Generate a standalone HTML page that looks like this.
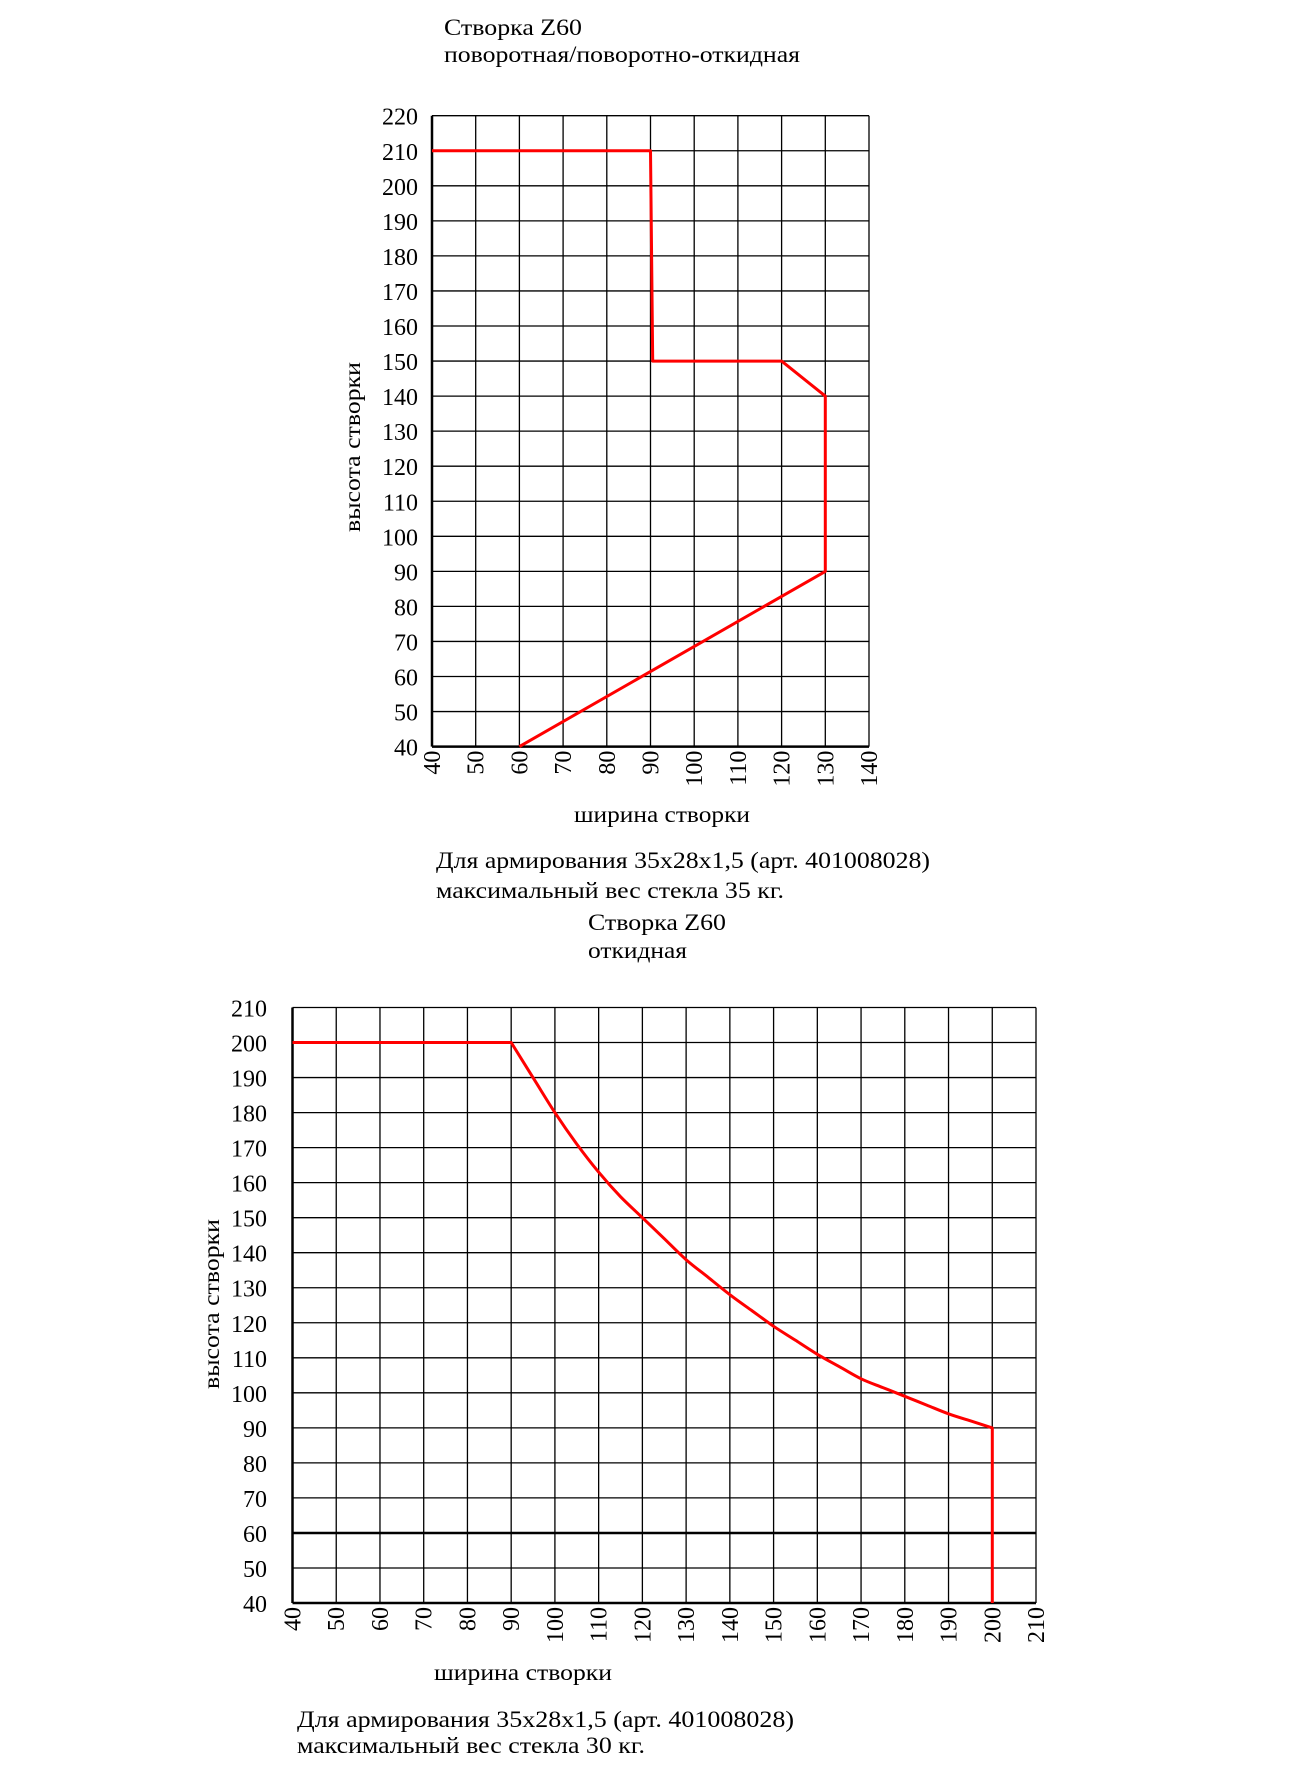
<!DOCTYPE html>
<html><head><meta charset="utf-8"><style>
html,body{margin:0;padding:0;background:#fff;}
svg{display:block;}
text{font-family:"Liberation Serif",serif;fill:#000;}
</style></head><body>
<svg id="s" width="1300" height="1776" xmlns="http://www.w3.org/2000/svg">
<text x="444" y="35" font-size="23" textLength="138" lengthAdjust="spacingAndGlyphs">Створка Z60</text>
<text x="444" y="62" font-size="23" textLength="356" lengthAdjust="spacingAndGlyphs">поворотная/поворотно-откидная</text>
<text x="436" y="868" font-size="23" textLength="494" lengthAdjust="spacingAndGlyphs">Для армирования 35x28x1,5 (арт. 401008028)</text>
<text x="436" y="898" font-size="23" textLength="348" lengthAdjust="spacingAndGlyphs">максимальный вес стекла 35 кг.</text>
<text x="588" y="930" font-size="23" textLength="138" lengthAdjust="spacingAndGlyphs">Створка Z60</text>
<text x="588" y="958" font-size="23" textLength="99" lengthAdjust="spacingAndGlyphs">откидная</text>
<text x="297" y="1727" font-size="23" textLength="497" lengthAdjust="spacingAndGlyphs">Для армирования 35x28x1,5 (арт. 401008028)</text>
<text x="297" y="1753" font-size="23" textLength="348" lengthAdjust="spacingAndGlyphs">максимальный вес стекла 30 кг.</text>
<text x="574" y="822" font-size="23" textLength="176" lengthAdjust="spacingAndGlyphs">ширина створки</text>
<text x="434" y="1680" font-size="23" textLength="178" lengthAdjust="spacingAndGlyphs">ширина створки</text>
<text transform="translate(360,447) rotate(-90)" text-anchor="middle" font-size="23" textLength="170" lengthAdjust="spacingAndGlyphs">высота створки</text>
<text transform="translate(219,1304) rotate(-90)" text-anchor="middle" font-size="23" textLength="170" lengthAdjust="spacingAndGlyphs">высота створки</text>
<g id="g"></g>
</svg>
<script>
var g=document.getElementById('g'),h='';
function chart(L,R,T,B,x0,x1,y0,y1,lblR,pts,thick60,smooth){
  var sx=(R-L)/(x1-x0),sy=(B-T)/(y1-y0);
  function X(v){return L+(v-x0)*sx} function Y(v){return B-(v-y0)*sy}
  for(var v=x0;v<=x1;v+=10){var x=X(v);
    h+='<line x1="'+x+'" y1="'+T+'" x2="'+x+'" y2="'+B+'" stroke="#000" stroke-width="'+(v==x0?2.5:1.3)+'"/>';
    h+='<text transform="translate('+(x+8)+','+(B+4)+') rotate(-90)" text-anchor="end" font-size="24">'+v+'</text>';}
  for(var v=y0;v<=y1;v+=10){var y=Y(v);
    h+='<line x1="'+L+'" y1="'+y+'" x2="'+R+'" y2="'+y+'" stroke="#000" stroke-width="'+(v==y0||(thick60&&v==60)?2.5:1.3)+'"/>';
    h+='<text x="'+lblR+'" y="'+(y+9)+'" text-anchor="end" font-size="24">'+v+'</text>';}
  var P=pts.map(function(p){return [X(p[0]),Y(p[1])]});
  var d='M'+P[0][0].toFixed(1)+','+P[0][1].toFixed(1);
  for(var i=1;i<P.length;i++){
    if(smooth&&smooth(i)){
      var p0=P[i-2]||P[i-1],p1=P[i-1],p2=P[i],p3=(smooth(i+1)?P[i+1]:P[i]);
      if(!smooth(i-1))p0=p1;
      var c1=[p1[0]+(p2[0]-p0[0])/6,p1[1]+(p2[1]-p0[1])/6],c2=[p2[0]-(p3[0]-p1[0])/6,p2[1]-(p3[1]-p1[1])/6];
      d+='C'+c1.map(function(a){return a.toFixed(1)})+' '+c2.map(function(a){return a.toFixed(1)})+' '+p2[0].toFixed(1)+','+p2[1].toFixed(1);
    } else d+='L'+P[i][0].toFixed(1)+','+P[i][1].toFixed(1);
  }
  h+='<path d="'+d+'" fill="none" stroke="#f00" stroke-width="3" stroke-linejoin="round"/>';
}
chart(432,869,115.7,746.6,40,140,40,220,418,[[40,210],[90,210],[90.5,150],[120,150],[130,140],[130,90],[60,40]]);
var c=[[40,200],[90,200],[95,190],[100,180],[105,171],[110,163],[115,156],[120,150],[125,144],[130,138],[135,133],[140,128],[145,123.5],[150,119],[155,115],[160,111],[165,107.5],[170,104],[175,101.5],[180,99],[185,96.5],[190,94],[195,92],[200,90],[200,40]];
chart(292.5,1036,1007.5,1603,40,210,40,210,267,c,true,function(i){return i>=2&&i<=23});
g.innerHTML=h;
</script>
</body></html>
